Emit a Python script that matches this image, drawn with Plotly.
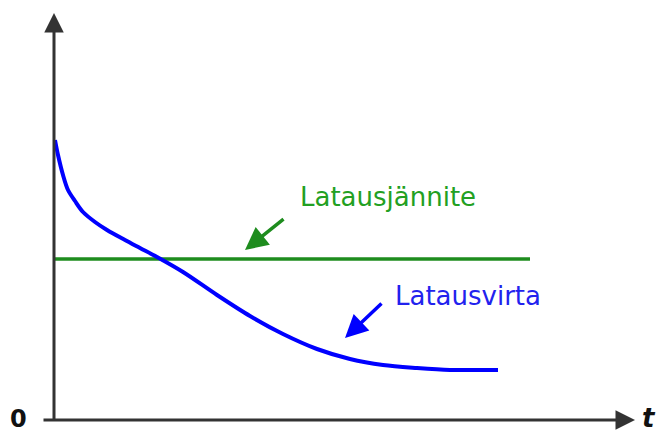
import plotly.graph_objects as go

# Charging current curve (Latausvirta), arbitrary units: t and value
t_current = [1, 4, 9, 14, 21, 29, 41, 53, 71, 86, 103, 129, 163, 196, 229, 263, 296, 329, 363, 396, 421, 444]
current = [280, 265, 245, 230, 219, 208, 198, 190, 180, 172, 163, 148, 125, 104, 86, 71, 61, 55, 52, 50, 50, 50]

# Charging voltage (Latausjännite), constant
t_voltage = [0, 476]
voltage = [161, 161]

label_voltage = "Latausjännite"
label_current = "Latausvirta"
origin_label = "0"
time_label = "t"

GREEN = "#1e8c1e"
BLUE = "#0000ff"
AXIS = "#333333"

fig = go.Figure()
fig.add_trace(go.Scatter(x=t_voltage, y=voltage, mode="lines",
                         line=dict(color=GREEN, width=3.5), showlegend=False))
fig.add_trace(go.Scatter(x=t_current, y=current, mode="lines",
                         line=dict(color=BLUE, width=4, shape="spline", smoothing=0.9),
                         showlegend=False))

anns = []
# y axis with arrow
anns.append(dict(x=0, y=407, ax=0, ay=-2, xref="x", yref="y", axref="x", ayref="y",
                 text="", showarrow=True, arrowhead=2, arrowsize=1.3, arrowwidth=3, arrowcolor=AXIS))
# x axis with arrow
anns.append(dict(x=581, y=0, ax=-12, ay=0, xref="x", yref="y", axref="x", ayref="y",
                 text="", showarrow=True, arrowhead=2, arrowsize=1.3, arrowwidth=3, arrowcolor=AXIS))
# pointer arrows
anns.append(dict(x=191, y=170, ax=231, ay=202, xref="x", yref="y", axref="x", ayref="y",
                 text="", showarrow=True, arrowhead=2, arrowsize=1.3, arrowwidth=3.5, arrowcolor=GREEN))
anns.append(dict(x=291, y=82, ax=329, ay=118, xref="x", yref="y", axref="x", ayref="y",
                 text="", showarrow=True, arrowhead=2, arrowsize=1.3, arrowwidth=3.5, arrowcolor=BLUE))
# text labels
anns.append(dict(x=244, y=223, xref="x", yref="y", text=label_voltage, showarrow=False,
                 xanchor="left", yanchor="middle",
                 font=dict(family="DejaVu Sans", size=26, color="#22a022")))
anns.append(dict(x=339, y=124, xref="x", yref="y", text=label_current, showarrow=False,
                 xanchor="left", yanchor="middle",
                 font=dict(family="DejaVu Sans", size=26, color="#2222ee")))
anns.append(dict(x=-36, y=1, xref="x", yref="y", text="<b>" + origin_label + "</b>", showarrow=False,
                 xanchor="center", yanchor="middle",
                 font=dict(family="DejaVu Sans", size=24, color="#111111")))
anns.append(dict(x=604, y=-15, xref="x", yref="y", text="<b><i>" + time_label + "</i></b>", showarrow=False,
                 xanchor="right", yanchor="bottom",
                 font=dict(family="DejaVu Sans", size=26, color="#111111")))

fig.update_layout(
    width=660, height=435,
    margin=dict(l=0, r=0, t=0, b=0),
    paper_bgcolor="white", plot_bgcolor="white",
    xaxis=dict(range=[-54, 606], visible=False, fixedrange=True),
    yaxis=dict(range=[-15, 420], visible=False, fixedrange=True),
    annotations=anns,
)

# remove the default 8 px page margin so the 660x435 figure fills the window exactly
fig.write_html("out.html", config={"displayModeBar": False},
               post_script="document.body.style.margin='0';document.body.style.overflow='hidden';")
